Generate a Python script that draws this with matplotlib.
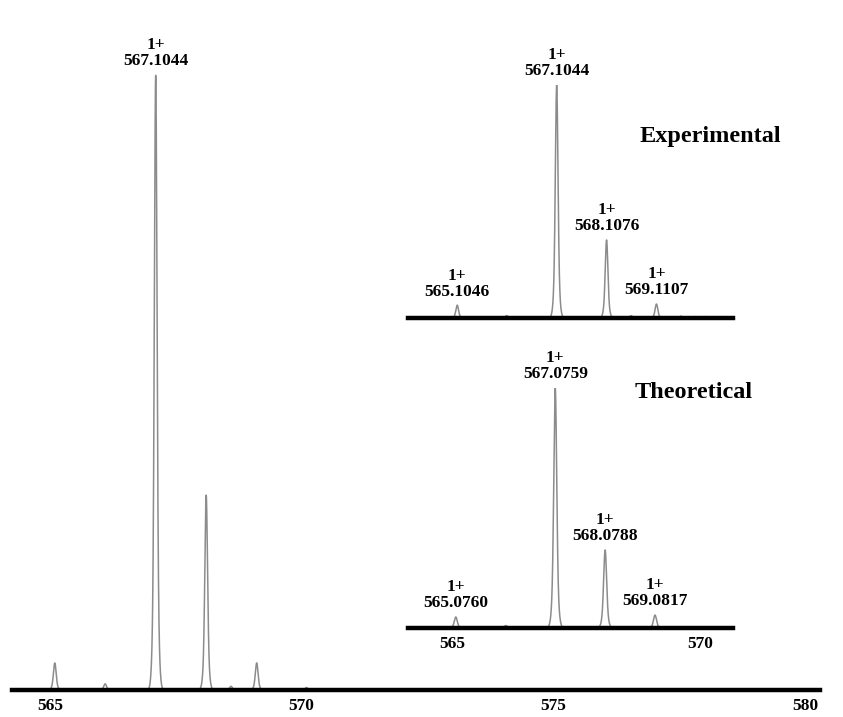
import numpy as np
import matplotlib.pyplot as plt

plt.rcParams['font.family'] = ['Liberation Serif', 'DejaVu Serif']
plt.rcParams['font.weight'] = 'bold'

W, H = 843, 717

# main spectrum (m/z, relative intensity)
main_mz = [565.10, 566.10, 567.1044, 568.1076, 568.60, 569.1107, 570.10]
main_int = [0.044, 0.010, 1.000, 0.317, 0.006, 0.044, 0.004]

# experimental inset
exp_mz = [565.1046, 566.10, 567.1044, 568.1076, 568.60, 569.1107, 569.60, 569.90, 570.10]
exp_int = [0.055, 0.010, 1.000, 0.335, 0.010, 0.060, 0.008, 0.006, 0.006]
exp_labels = {565.1046: '565.1046', 567.1044: '567.1044',
              568.1076: '568.1076', 569.1107: '569.1107'}

# theoretical inset
theo_mz = [565.0760, 566.08, 567.0759, 568.0788, 569.0817]
theo_int = [0.046, 0.010, 1.000, 0.325, 0.054]
theo_labels = {565.0760: '565.0760', 567.0759: '567.0759',
               568.0788: '568.0788', 569.0817: '569.0817'}

main_ticks = [565, 570, 575, 580]
inset_ticks = [565, 570]

gray = '#8c8c8c'


def profile(mz, inten, x, sigma):
    # sharp core with a slightly flared base
    y = np.zeros_like(x)
    for m, i in zip(mz, inten):
        d = x - m
        y += i * (0.75 * np.exp(-0.5 * (d / (sigma * 0.55)) ** 2)
                  + 0.25 * np.exp(-0.5 * (d / sigma) ** 2))
    return y


def ax_px(x0, y_base, x1, y_top):
    # pixel box -> figure fraction
    return [x0 / W, (H - y_base) / H, (x1 - x0) / W, (y_base - y_top) / H]


def strip(ax):
    for s in ['top', 'right', 'left']:
        ax.spines[s].set_visible(False)
    ax.spines['bottom'].set_linewidth(3.2)
    ax.spines['bottom'].set_color('black')
    ax.set_yticks([])
    ax.patch.set_alpha(0)


fig = plt.figure(figsize=(W / 100, H / 100), dpi=100)

lab_fs = 12.5

# ---- main spectrum
ax = fig.add_axes(ax_px(12, 690, 820, 20))
x = np.linspace(564.25, 580.3, 8000)
ax.plot(x, profile(main_mz, main_int, x, 0.045), color=gray, lw=1.1)
ax.set_xlim(564.25, 580.3)
ax.set_ylim(0, 670 / 615)
strip(ax)
ax.set_xticks(main_ticks)
ax.tick_params(axis='x', length=0, pad=6, labelsize=12.5)
ax.annotate('1+\n567.1044', (567.1044, 1.0), xytext=(0, 4), textcoords='offset points',
            ha='center', va='bottom', fontsize=lab_fs, linespacing=1.0)

# ---- experimental inset
ax1 = fig.add_axes(ax_px(408, 318, 733, 85))
xi = np.linspace(564.115, 570.65, 6000)
ax1.plot(xi, profile(exp_mz, exp_int, xi, 0.045), color=gray, lw=1.1)
ax1.set_xlim(564.115, 570.65)
ax1.set_ylim(0, 1.0)
strip(ax1)
ax1.set_xticks([])
for m, i in zip(exp_mz, exp_int):
    if m in exp_labels:
        ax1.annotate('1+\n' + exp_labels[m], (m, i), xytext=(0, 4), textcoords='offset points',
                     ha='center', va='bottom', fontsize=lab_fs, linespacing=1.0)
ax1.text(0.93, 0.78, 'Experimental', transform=ax1.transAxes, ha='center', va='center',
         fontsize=17.5)

# ---- theoretical inset
ax2 = fig.add_axes(ax_px(408, 628, 733, 388))
ax2.plot(xi, profile(theo_mz, theo_int, xi, 0.05), color=gray, lw=1.1)
ax2.set_xlim(564.115, 570.65)
ax2.set_ylim(0, 1.0)
strip(ax2)
ax2.set_xticks(inset_ticks)
ax2.tick_params(axis='x', length=0, pad=6, labelsize=12.5)
for m, i in zip(theo_mz, theo_int):
    if m in theo_labels:
        ax2.annotate('1+\n' + theo_labels[m], (m, i), xytext=(0, 4), textcoords='offset points',
                     ha='center', va='bottom', fontsize=lab_fs, linespacing=1.0)
ax2.text(0.88, 0.98, 'Theoretical', transform=ax2.transAxes, ha='center', va='center',
         fontsize=17.5)

fig.savefig('out.png', dpi=100)
